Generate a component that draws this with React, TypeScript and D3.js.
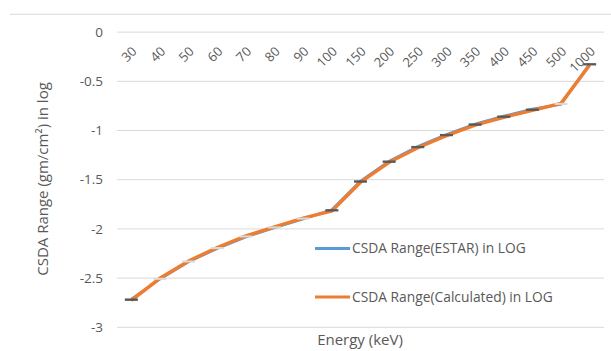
import React from "react";
import * as d3 from "d3";

const categories = ["30","40","50","60","70","80","90","100","150","200","250","300","350","400","450","500","1000"];
const calculated = [-2.726,-2.502,-2.326,-2.19,-2.072,-1.98,-1.89,-1.818,-1.525,-1.323,-1.175,-1.053,-0.946,-0.866,-0.795,-0.724,-0.334];
const estar = [-2.712,-2.51,-2.336,-2.2,-2.082,-1.99,-1.9,-1.805,-1.512,-1.31,-1.162,-1.04,-0.933,-0.853,-0.782,-0.734,-0.321];
const yTicks = [0,-0.5,-1,-1.5,-2,-2.5,-3];
const seriesNames = ["CSDA Range(ESTAR) in LOG","CSDA Range(Calculated) in LOG"];

const W = 611, H = 351;
const left = 117, right = 604, top = 32.1, bottom = 327.3;
const FONT = "'Open Sans', sans-serif";
const TXT = "#595959";

export default function App() {
  const x = d3.scaleBand<string>().domain(categories).range([left, right]).padding(0);
  const y = d3.scaleLinear().domain([-3, 0]).range([bottom, top]);
  const cx = (c: string) => (x(c) as number) + x.bandwidth() / 2;
  const line = d3.line<number>().x((_, i) => cx(categories[i])).y((d) => y(d));
  const barW = 12;
  return (
    <svg width={W} height={H} style={{ position: "absolute", left: 0, top: 0, background: "#fff" }}>
      <line x1={10} x2={611} y1={14.3} y2={14.3} stroke="#d9d9d9" strokeWidth={1} />
      {yTicks.map((t) => (
        <g key={t}>
          <line x1={left} x2={right} y1={y(t)} y2={y(t)} stroke="#d9d9d9" strokeWidth={1} />
          <text x={103} y={y(t)} dy="0.35em" textAnchor="end" fontFamily={FONT} fontSize={13.5} fill={TXT}>{t}</text>
        </g>
      ))}
      {categories.map((c) => (
        <text key={c} transform={`translate(${cx(c) + 3},${49}) rotate(-45)`} textAnchor="end" dy="0.35em" fontFamily={FONT} fontSize={13} fill={TXT}>{c}</text>
      ))}
      <path d={line(estar) || ""} fill="none" stroke="#5B9BD5" strokeWidth={2.5} />
      <path d={line(calculated) || ""} fill="none" stroke="#ED7D31" strokeWidth={3.5} />
      {categories.map((c, i) => {
        const up = calculated[i] > estar[i];
        const y0 = y(Math.max(calculated[i], estar[i]));
        const y1 = y(Math.min(calculated[i], estar[i]));
        return (
          <rect key={c} x={cx(c) - barW / 2} y={y0} width={barW} height={Math.max(1, y1 - y0)}
            fill={up ? "#d9d9d9" : "#595959"} stroke={up ? "#d9d9d9" : "#595959"} strokeWidth={1} />
        );
      })}
      {seriesNames.map((s, i) => (
        <g key={s}>
          <line x1={315} x2={350} y1={248.5 + i * 48.5} y2={248.5 + i * 48.5} stroke={i === 0 ? "#5B9BD5" : "#ED7D31"} strokeWidth={3} />
          <text x={352} y={248.5 + i * 48.5} dy="0.35em" fontFamily={FONT} fontSize={13.8} fill={TXT}>{s}</text>
        </g>
      ))}
      <text x={360} y={340} dy="0.35em" textAnchor="middle" fontFamily={FONT} fontSize={15} fill={TXT}>Energy (keV)</text>
      <text transform={`translate(43,179) rotate(-90)`} dy="0.35em" textAnchor="middle" fontFamily={FONT} fontSize={15} fill={TXT}>CSDA Range (gm/cm²) in log</text>
    </svg>
  );
}
